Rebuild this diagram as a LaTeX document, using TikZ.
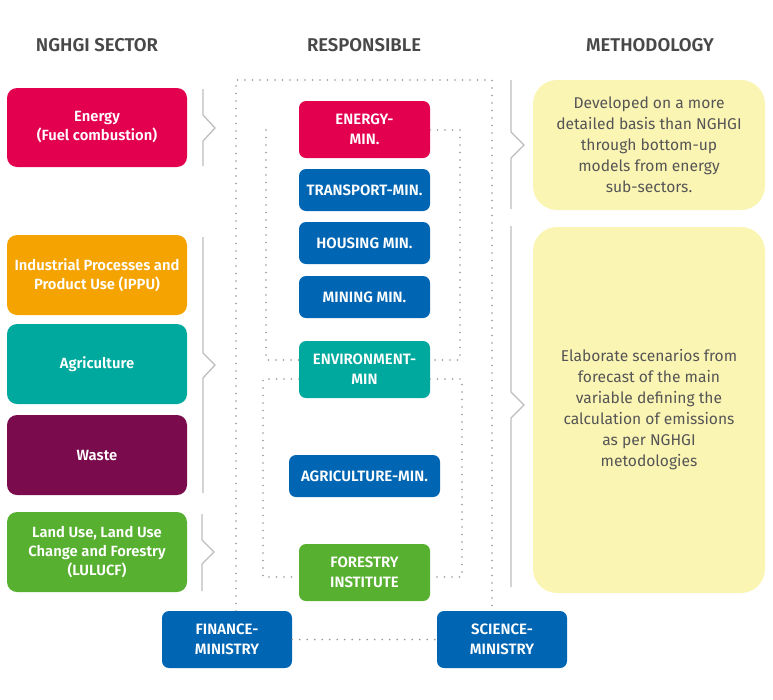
\documentclass[tikz,border=0pt]{standalone}
\usepackage{fontspec}
\setmainfont{Fira Sans}[BoldFont={Fira Sans SemiBold}]
\begin{document}
\begin{tikzpicture}[x=1pt,y=-1pt,
  sectorbox/.style={fill=#1, rounded corners=10pt, minimum width=180pt, minimum height=80pt,
    text=white, align=center, font=\bfseries\fontsize{14.8}{19}\selectfont, inner sep=0pt},
  respbox/.style={fill=#1, rounded corners=7pt, minimum width=131pt,
    text=white, align=center, font=\bfseries\fontsize{15}{20}\selectfont, inner sep=0pt},
  methbox/.style={fill=methyellow, rounded corners=24pt, minimum width=232pt,
    text=methtext, align=center, font=\fontsize{15.6}{21}\selectfont, inner sep=0pt},
  heading/.style={text=headgray, font=\bfseries\fontsize{18.5}{20}\selectfont},
  dotline/.style={draw=dotgray, line width=1.9pt, line cap=round, dash pattern=on 0pt off 7.5pt},
  bracket/.style={draw=brackgray, line width=1.3pt}]

\definecolor{cRed}{HTML}{E3004F}
\definecolor{cOrange}{HTML}{F5A300}
\definecolor{cTeal}{HTML}{00A99D}
\definecolor{cPurple}{HTML}{7A0B4D}
\definecolor{cGreen}{HTML}{58B031}
\definecolor{cBlue}{HTML}{0066B3}
\definecolor{methyellow}{HTML}{FBF5B4}
\definecolor{methtext}{HTML}{555555}
\definecolor{headgray}{HTML}{484848}
\definecolor{dotgray}{HTML}{979797}
\definecolor{brackgray}{HTML}{BDBDBD}

\useasboundingbox (0,0) rectangle (773,699);

% column headings
\node[heading] (h1) at (97,45) {NGHGI SECTOR};
\node[heading] (h2) at (364,45) {RESPONSIBLE};
\node[heading] (h3) at (650,45) {METHODOLOGY};

% NGHGI sectors
\node[sectorbox=cRed, minimum height=79pt] (sEnergy) at (97,127.5) {Energy\\(Fuel combustion)};
\node[sectorbox=cOrange] (sIPPU) at (97,275) {Industrial Processes and\\Product Use (IPPU)};
\node[sectorbox=cTeal] (sAgri) at (97,364) {Agriculture};
\node[sectorbox=cPurple] (sWaste) at (97,455) {Waste};
\node[sectorbox=cGreen] (sLulucf) at (97,552) {Land Use, Land Use\\Change and Forestry\\(LULUCF)};

% dotted links between responsible bodies (drawn first, boxes on top)
\draw[dotline] (236,611) |- (492,80) -- (492,611);
\draw[dotline] (266,130) -| (266,360) -- (299,360);
\draw[dotline] (430,130) -| (460,360) -- (430,360);
\draw[dotline] (299,379) -| (263,577) -- (299,577);
\draw[dotline] (430,379) -| (462,577) -- (430,577);

% responsible bodies
\node[respbox=cRed, minimum height=57pt] (rEnergy) at (364.5,129.5) {ENERGY-\\MIN.};
\node[respbox=cBlue, minimum height=42pt] (rTransport) at (364.5,190) {TRANSPORT-MIN.};
\node[respbox=cBlue, minimum height=42pt] (rHousing) at (364.5,243) {HOUSING MIN.};
\node[respbox=cBlue, minimum height=42pt] (rMining) at (364.5,297) {MINING MIN.};
\node[respbox=cTeal, minimum height=57pt] (rEnv) at (364.5,369.5) {ENVIRONMENT-\\MIN};
\node[respbox=cBlue, minimum height=42pt, minimum width=151pt] (rAgri) at (364.5,476) {AGRICULTURE-MIN.};
\node[respbox=cGreen, minimum height=57pt] (rForest) at (364.5,572.5) {FORESTRY\\INSTITUTE};
\node[respbox=cBlue, minimum height=57pt, minimum width=130pt] (rFinance) at (227,639.5) {FINANCE-\\MINISTRY};
\node[respbox=cBlue, minimum height=57pt, minimum width=130pt] (rScience) at (502,639.5) {SCIENCE-\\MINISTRY};

\draw[dotline] (rFinance) -- (rScience);

% methodology
\node[methbox, minimum height=130pt] (m1) at (649,145)
  {Developed on a more\\detailed basis than NGHGI\\through bottom-up\\models from energy\\sub-sectors.};
\node[methbox, minimum height=366pt] (m2) at (649,410)
  {Elaborate scenarios from\\forecast of the main\\variable defining the\\calculation of emissions\\as per NGHGI\\metodologies};

% grouping brackets
\draw[bracket] (203,89) -- (203,115) -- (215,128) -- (203,141) -- (203,166);
\draw[bracket] (203,237) -- (203,353) -- (215,365) -- (203,378) -- (203,493);
\draw[bracket] (202,514) -- (202,540) -- (214,552) -- (202,564) -- (202,591);
\draw[bracket] (511,80) -- (511,132) -- (524,145) -- (511,158) -- (511,209);
\draw[bracket] (511,226) -- (511,392) -- (524,405) -- (511,418) -- (511,587);
\end{tikzpicture}
\end{document}
